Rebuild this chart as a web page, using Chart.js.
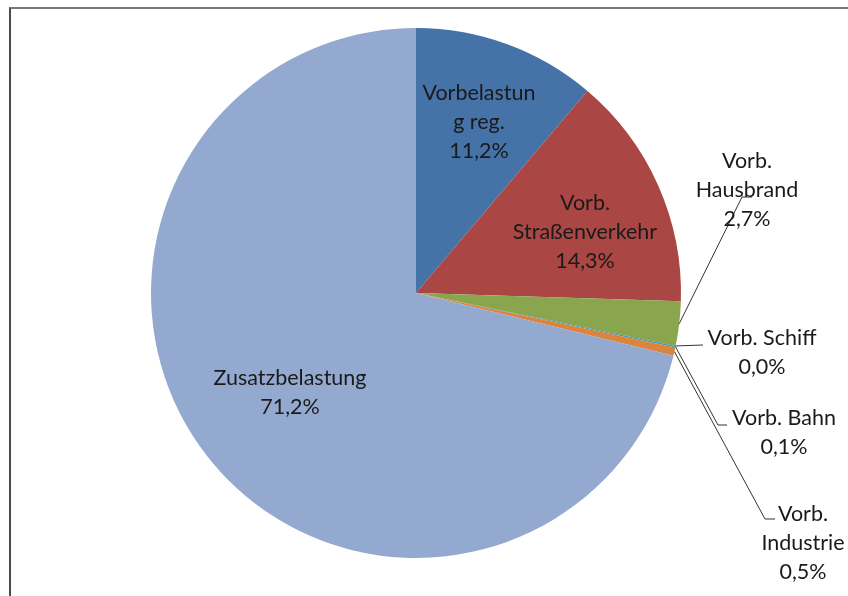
<!DOCTYPE html>
<html>
<head>
<meta charset="utf-8">
<script src="https://cdn.jsdelivr.net/npm/chart.js@4"></script>
<style>
  html, body { margin: 0; padding: 0; background: #fff; }
  #wrap { position: relative; width: 848px; height: 596px; overflow: hidden; }
  #frame { position: absolute; left: 9px; top: 7px; width: 900px; height: 700px;
           border-left: 2px solid #4a4a4a; border-top: 2px solid #7a7a7a; }
  canvas { position: absolute; left: 0; top: 0; }
</style>
</head>
<body>
<div id="wrap">
  <div id="frame"></div>
  <canvas id="pie" width="848" height="596"></canvas>
</div>
<script>
// --- data ---
const categories = ["Vorbelastung reg.", "Vorb. Straßenverkehr", "Vorb. Hausbrand", "Vorb. Schiff", "Vorb. Bahn", "Vorb. Industrie", "Zusatzbelastung"];
const shares = [11.2, 14.3, 2.7, 0.0, 0.1, 0.5, 71.2];
const labelLines = [["Vorbelastun", "g reg."], ["Vorb.", "Straßenverkehr"], ["Vorb.", "Hausbrand"], ["Vorb. Schiff"], ["Vorb. Bahn"], ["Vorb.", "Industrie"], ["Zusatzbelastung"]];
const colors = ["#4572A7", "#AA4643", "#89A54E", "#71588F", "#4198AF", "#DB843D", "#93A9CF"];

// --- label layout (text centre x, first line y, optional leader line) ---
const labelLayout = [
  { x: 479, y: 93 },
  { x: 585, y: 203 },
  { x: 747, y: 161, elbow: [742, 197], end: [752, 197] },
  { x: 762, y: 338, elbow: [703, 345], end: [703, 345] },
  { x: 784, y: 418, elbow: [718, 425], end: [727, 425] },
  { x: 803, y: 514, elbow: [765, 519], end: [775, 519] },
  { x: 290, y: 378 }
];
const LINE_H = 29;
const FONT = "21.5px Lato, 'Open Sans', sans-serif";

function pct(v) {
  return v.toFixed(1).replace(".", ",") + "%";
}

const pieLabels = {
  id: "pieLabels",
  afterDatasetsDraw(chart) {
    const ctx = chart.ctx;
    const arcs = chart.getDatasetMeta(0).data;
    ctx.save();
    // leader lines
    ctx.strokeStyle = "#333";
    ctx.lineWidth = 1;
    arcs.forEach((arc, i) => {
      const L = labelLayout[i];
      if (!L || !L.elbow) return;
      const p = arc.getProps(["x", "y", "startAngle", "endAngle", "outerRadius"], true);
      const mid = (p.startAngle + p.endAngle) / 2;
      const ax = p.x + Math.cos(mid) * p.outerRadius;
      const ay = p.y + Math.sin(mid) * p.outerRadius;
      ctx.beginPath();
      ctx.moveTo(ax, ay);
      ctx.lineTo(L.elbow[0], L.elbow[1]);
      ctx.lineTo(L.end[0], L.end[1]);
      ctx.stroke();
    });
    // texts
    ctx.fillStyle = "#1a1a1a";
    ctx.font = FONT;
    ctx.textAlign = "center";
    ctx.textBaseline = "middle";
    shares.forEach((v, i) => {
      const L = labelLayout[i];
      const lines = labelLines[i].concat([pct(v)]);
      lines.forEach((t, k) => ctx.fillText(t, L.x, L.y + k * LINE_H));
    });
    ctx.restore();
  }
};

new Chart(document.getElementById("pie"), {
  type: "pie",
  data: {
    labels: categories,
    datasets: [{
      data: shares,
      backgroundColor: colors,
      borderWidth: 0,
      hoverOffset: 0
    }]
  },
  options: {
    responsive: false,
    animation: false,
    devicePixelRatio: 1,
    layout: { padding: { left: 151, right: 167, top: 28, bottom: 38 } },
    plugins: { legend: { display: false }, tooltip: { enabled: false } }
  },
  plugins: [pieLabels]
});
</script>
</body>
</html>
